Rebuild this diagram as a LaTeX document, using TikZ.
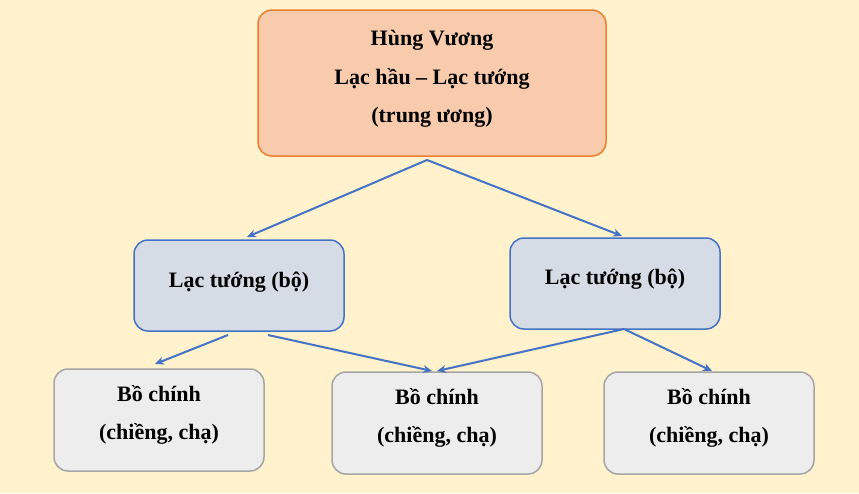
\documentclass[tikz,border=0pt]{standalone}
\usepackage{fontspec}
\setmainfont{Liberation Serif}
\usetikzlibrary{arrows.meta}
\definecolor{bg}{HTML}{FFF2CC}
\definecolor{topf}{HTML}{F8CBAD}
\definecolor{topd}{HTML}{ED7D31}
\definecolor{midf}{HTML}{D6DCE5}
\definecolor{blu}{HTML}{4472C4}
\definecolor{botf}{HTML}{EDEDED}
\definecolor{botd}{HTML}{A5A5A5}
\begin{document}
\begin{tikzpicture}[x=1pt,y=-1pt,
 bx/.style={rounded corners=14pt,line width=1.5pt},
 lbl/.style={align=center,font=\fontsize{22}{38.5}\selectfont\bfseries},
 arr/.style={draw=blu,line width=2pt,-{Stealth[length=9pt,width=8pt]}}]
\fill[bg] (0,0) rectangle (859,493);
\useasboundingbox (0,0) rectangle (859,493);
\draw[bx,fill=topf,draw=topd] (258,10) rectangle (606,156);
\node[lbl] (top) at (432,79) {Hùng Vương\\Lạc hầu -- Lạc tướng\\(trung ương)};
\draw[bx,fill=midf,draw=blu] (134,240) rectangle (344,331);
\node[lbl] (m1) at (239,282) {Lạc tướng (bộ)};
\draw[bx,fill=midf,draw=blu] (510,238) rectangle (720,329);
\node[lbl] (m2) at (615,279) {Lạc tướng (bộ)};
\draw[bx,fill=botf,draw=botd] (54,369) rectangle (264,471);
\node[lbl] (b1) at (159,415) {Bồ chính\\(chiềng, chạ)};
\draw[bx,fill=botf,draw=botd] (332,372) rectangle (542,474);
\node[lbl] (b2) at (437,418) {Bồ chính\\(chiềng, chạ)};
\draw[bx,fill=botf,draw=botd] (604,372) rectangle (814,474);
\node[lbl] (b3) at (709,418) {Bồ chính\\(chiềng, chạ)};
\coordinate (t0) at (427,160);
\coordinate (m1t) at (247,237);
\coordinate (m2t) at (622,236);
\coordinate (m1a) at (228,335);
\coordinate (m1b) at (268,335);
\coordinate (m2b) at (624,329);
\coordinate (b1t) at (155,364);
\coordinate (b2t) at (432,371);
\coordinate (b2u) at (437,371);
\coordinate (b3t) at (712,371);
\draw[arr] (t0) -- (m1t);
\draw[arr] (t0) -- (m2t);
\draw[arr] (m1a) -- (b1t);
\draw[arr] (m1b) -- (b2t);
\draw[arr] (m2b) -- (b2u);
\draw[arr] (m2b) -- (b3t);
\end{tikzpicture}
\end{document}
